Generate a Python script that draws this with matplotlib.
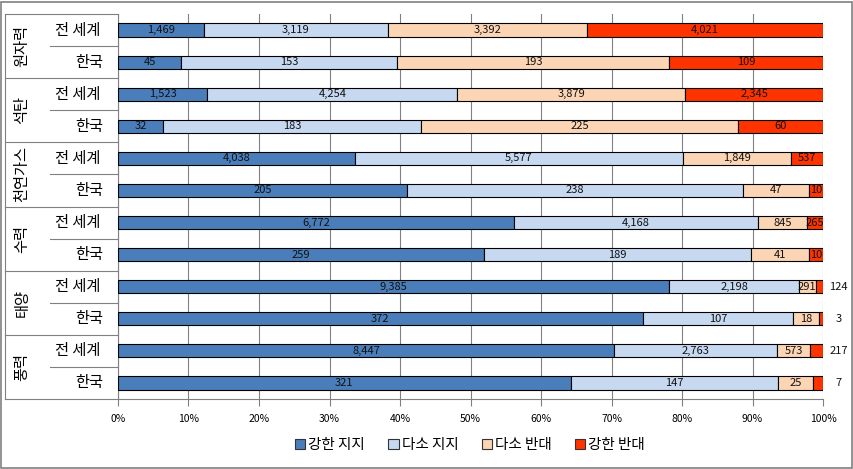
import matplotlib
matplotlib.use("Agg")
import matplotlib.pyplot as plt
import numpy as np
from matplotlib.patches import Patch, Rectangle
from matplotlib.lines import Line2D

plt.rcParams['font.family'] = ['Noto Sans CJK KR', 'DejaVu Sans']

groups = ["원자력", "석탄", "천연가스", "수력", "태양", "풍력"]
subs = ["전 세계", "한국"]
series = ["강한 지지", "다소 지지", "다소 반대", "강한 반대"]
colors = ["#4A7EBB", "#C6D9F1", "#FCD5B5", "#FF3300"]

strong_support = [1469, 45, 1523, 32, 4038, 205, 6772, 259, 9385, 372, 8447, 321]
some_support   = [3119, 153, 4254, 183, 5577, 238, 4168, 189, 2198, 107, 2763, 147]
some_oppose    = [3392, 193, 3879, 225, 1849, 47, 845, 41, 291, 18, 573, 25]
strong_oppose  = [4021, 109, 2345, 60, 537, 10, 265, 10, 124, 3, 217, 7]

data = np.array([strong_support, some_support, some_oppose, strong_oppose], dtype=float)
totals = data.sum(axis=0)
pct = data / totals * 100

W, H = 854, 469
fig = plt.figure(figsize=(W / 100, H / 100), dpi=100)
ax_l, ax_r, ax_t, ax_b = 118, 823, 14, 399
ax = fig.add_axes([ax_l / W, 1 - ax_b / H, (ax_r - ax_l) / W, (ax_b - ax_t) / H])

n = data.shape[1]
y = np.arange(n)
left = np.zeros(n)
for k in range(4):
    ax.barh(y, pct[k], left=left, height=0.41, color=colors[k],
            edgecolor="black", linewidth=0.8, zorder=3)
    for i in range(n):
        v = data[k, i]
        cx = left[i] + pct[k, i] / 2
        txt = f"{int(v):,}"
        if k == 3 and pct[k, i] < 1.9:
            ax.text(102.2, y[i], txt, ha="center", va="center", fontsize=8,
                    color="#111111", zorder=5, clip_on=False)
        else:
            ax.text(cx, y[i], txt, ha="center", va="center", fontsize=8,
                    color="#111111", zorder=5)
    left = left + pct[k]

ax.set_xlim(0, 100)
ax.set_ylim(n - 0.5, -0.5)
ax.set_xticks(np.arange(0, 101, 10))
ax.set_xticklabels([f"{t}%" for t in range(0, 101, 10)], fontsize=7.5)
ax.tick_params(axis="x", length=5, color="#808080", pad=6)
ax.set_yticks([])
ax.grid(axis="x", color="#808080", linewidth=0.8, zorder=0)
for s in ["top", "right"]:
    ax.spines[s].set_visible(False)
ax.spines["left"].set_color("#808080")
ax.spines["bottom"].set_color("#808080")

# left hierarchical labels
row_h = (ax_b - ax_t) / n
def fy(py):
    return 1 - py / H
for gi, g in enumerate(groups):
    top_px = ax_t + gi * 2 * row_h
    mid_px = top_px + row_h
    bot_px = top_px + 2 * row_h
    fig.text(22 / W, fy(mid_px), g, rotation=90, ha="center", va="center", fontsize=11)
    fig.text(78 / W, fy(top_px + row_h / 2), subs[0], ha="center", va="center", fontsize=11)
    fig.text(103 / W, fy(mid_px + row_h / 2), subs[1], ha="right", va="center", fontsize=11)
    fig.add_artist(Line2D([50 / W, ax_l / W], [fy(mid_px), fy(mid_px)], color="#808080", lw=0.8))
for gi in range(len(groups) + 1):
    py = ax_t + gi * 2 * row_h
    fig.add_artist(Line2D([5 / W, ax_l / W], [fy(py), fy(py)], color="#808080", lw=0.8))
fig.add_artist(Line2D([5 / W, 5 / W], [fy(ax_t), fy(ax_b)], color="#808080", lw=0.8))

handles = [Patch(facecolor=c, edgecolor="#333333", linewidth=0.8) for c in colors]
fig.legend(handles, series, loc="center", bbox_to_anchor=(470 / W, fy(445)), ncol=4,
           frameon=False, fontsize=10.5, handlelength=0.7, handleheight=0.7,
           handletextpad=0.2, columnspacing=1.6)

fig.add_artist(Rectangle((1 / W, 1 / H), (W - 3) / W, (H - 3) / H, fill=False,
                         edgecolor="#808080", lw=1.2, transform=fig.transFigure))

fig.savefig("out.png", dpi=100)
